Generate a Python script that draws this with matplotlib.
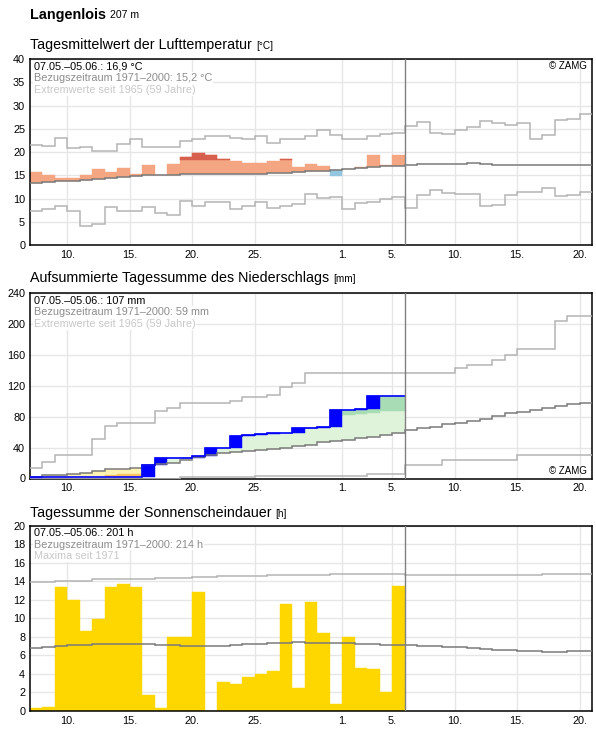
import numpy as np
import matplotlib.pyplot as plt

plt.rcParams['font.family'] = ['Liberation Sans', 'DejaVu Sans']

# x axis: day index 0 = 07.05., each day spans [d, d+1)
tick_pos = [3, 8, 13, 18, 25, 29, 34, 39, 44]
tick_labels = ['10.', '15.', '20.', '25.', '1.', '5.', '10.', '15.', '20.']
n_days = 45
n_obs = 30

# --- temperature (°C) ---
temp = [15.6, 15.1, 14.5, 14.5, 15.1, 16.4, 15.6, 16.6, 15.3, 17.3,
        15.05, 17.5, 19.0, 19.86, 19.4, 18.57, 18.1, 17.7, 17.7, 18.1,
        18.57, 16.85, 17.5, 17.06, 14.9, 16.3, 16.85, 19.4, 17.3, 19.4]
temp_norm = [13.4, 13.6, 13.76, 13.76, 13.9, 14.2, 14.4, 14.6, 14.8, 15.05,
             15.05, 15.05, 15.3, 15.3, 15.3, 15.27, 15.27, 15.27, 15.27, 15.5,
             15.5, 15.7, 15.9, 15.9, 16.1, 16.3, 16.56, 16.8, 17.0, 17.0,
             17.2, 17.4, 17.4, 17.4, 17.4, 17.56, 17.35, 17.2, 17.2, 17.2,
             17.2, 17.2, 17.2, 17.2, 17.2]
temp_max = [21.5, 21.3, 23.0, 20.86, 21.1, 20.2, 20.2, 21.7, 22.8, 21.1,
            21.1, 21.1, 22.3, 22.8, 23.4, 23.4, 23.0, 22.8, 23.4, 21.9,
            22.8, 22.9, 23.4, 24.7, 23.66, 22.8, 22.8, 23.4, 23.9, 24.1,
            25.5, 26.45, 24.1, 23.8, 24.66, 25.3, 26.6, 26.2, 25.7, 26.2,
            22.9, 23.66, 26.8, 27.1, 28.1]
temp_min = [7.3, 7.74, 8.4, 7.3, 4.1, 4.5, 8.2, 7.3, 7.3, 8.2,
            6.9, 6.45, 9.5, 8.4, 9.25, 9.25, 7.74, 8.4, 9.25, 7.96,
            8.4, 8.8, 11.0, 10.1, 10.3, 7.74, 9.0, 9.25, 9.9, 10.3,
            7.9, 10.7, 11.76, 11.2, 10.9, 10.9, 8.4, 8.6, 10.7, 11.5,
            11.3, 12.26, 10.5, 10.7, 11.5]
hot_days = [12, 13, 14, 15, 20]
hot_limit = [18.35, 18.35, 18.35, 18.2, 18.3]

# --- precipitation, cumulative (mm) ---
prec_cum = [1.5, 1.5, 1.5, 1.5, 1.5, 1.5, 1.5, 1.5, 1.5, 17.4,
            26.4, 26.4, 26.6, 28.5, 40.0, 40.0, 54.5, 55.7, 57.0, 58.3,
            58.3, 64.7, 65.0, 66.0, 89.0, 89.0, 90.2, 106.8, 106.8, 106.8]
prec_norm = [2.0, 4.8, 4.8, 6.4, 7.7, 9.2, 12.8, 12.8, 13.5, 17.0,
             18.8, 20.6, 23.3, 27.5, 30.0, 32.8, 34.0, 35.3, 36.6, 37.9,
             39.1, 41.7, 43.0, 46.8, 48.1, 49.4, 51.9, 53.2, 55.7, 59.0,
             62.5, 64.7, 66.8, 70.2, 71.9, 74.5, 77.4, 80.9, 84.2, 85.5,
             88.1, 91.4, 94.0, 95.8, 97.1]
prec_max = [13.2, 20.9, 29.8, 29.8, 29.8, 51.5, 68.0, 72.0, 72.0, 72.0,
            87.0, 90.7, 97.4, 97.4, 97.4, 97.4, 100.0, 105.1, 105.1, 107.7,
            117.9, 123.0, 136.7, 136.7, 136.7, 136.7, 136.7, 136.7, 136.7, 136.7,
            136.7, 136.7, 136.7, 136.7, 143.0, 146.8, 146.8, 153.3, 159.6, 167.3,
            167.3, 167.3, 204.3, 210.8, 210.8]
prec_min = [0, 0, 0, 0, 0, 0, 0, 0, 0, 0,
            0, 0, 1.5, 1.5, 1.5, 1.5, 1.5, 1.5, 3.4, 3.4,
            3.4, 3.4, 3.4, 3.4, 3.4, 3.4, 3.4, 6.3, 6.3, 6.3,
            17.0, 17.0, 17.0, 23.4, 23.4, 23.4, 23.4, 23.4, 23.4, 31.0,
            31.0, 31.0, 31.0, 31.0, 31.0]
wet_days = [24, 25, 26, 27, 28, 29]
wet_limit = [81.0, 82.6, 83.8, 84.7, 86.8, 86.8]
dry_days = [4, 5, 6, 7, 8]
dry_limit = [2.5, 2.5, 4.0, 5.6, 5.6]

# --- sunshine (h) ---
sun = [0.3, 0.4, 13.36, 12.0, 8.64, 9.96, 13.36, 13.68, 13.36, 1.68,
       0.29, 7.93, 7.93, 12.8, 0.0, 3.18, 2.86, 3.71, 4.04, 4.36,
       11.54, 2.43, 11.75, 8.43, 0.71, 8.0, 4.68, 4.57, 2.1, 13.46]
sun_norm = [6.79, 6.86, 6.96, 7.07, 7.07, 7.18, 7.2, 7.2, 7.2, 7.2,
            7.14, 7.1, 7.0, 7.0, 7.0, 7.0, 7.1, 7.2, 7.2, 7.32,
            7.32, 7.43, 7.32, 7.32, 7.32, 7.32, 7.2, 7.2, 7.07, 7.07,
            7.1, 7.0, 7.0, 6.89, 6.89, 6.79, 6.68, 6.57, 6.57, 6.5,
            6.5, 6.39, 6.39, 6.5, 6.5]
sun_max = [13.93, 13.93, 14.04, 14.04, 14.04, 14.18, 14.18, 14.25, 14.25, 14.25,
           14.32, 14.32, 14.32, 14.46, 14.46, 14.54, 14.57, 14.57, 14.57, 14.68,
           14.68, 14.68, 14.7, 14.7, 14.72, 14.75, 14.75, 14.75, 14.75, 14.75,
           14.71, 14.71, 14.71, 14.71, 14.71, 14.71, 14.71, 14.71, 14.71, 14.71,
           14.71, 14.82, 14.82, 14.82, 14.82]

W, H = 596, 729
fig = plt.figure(figsize=(W / 100, H / 100), dpi=100)


def add_panel(top, bottom, left=30, right=592):
    return fig.add_axes([left / W, 1 - bottom / H, (right - left) / W, (bottom - top) / H])


def style(ax, ymax, ystep):
    ax.set_xlim(0, n_days)
    ax.set_ylim(0, ymax)
    ax.set_xticks(tick_pos)
    ax.set_xticklabels(tick_labels)
    ax.set_yticks(np.arange(0, ymax + 0.1, ystep))
    ax.tick_params(length=0, labelsize=7.8, pad=3.5)
    ax.grid(True, color='#e6e6e6', linewidth=1)
    ax.set_axisbelow(True)
    for s in ax.spines.values():
        s.set_linewidth(1.1)
        s.set_color('black')
    ax.axvline(n_obs, color='#808080', linewidth=1, zorder=4)


def info(ax, lines):
    cols = ['black', '#8c8c8c', '#c8c8c8']
    for i, (txt, c) in enumerate(zip(lines, cols)):
        ax.annotate(txt, xy=(0, 1), xycoords='axes fraction',
                    xytext=(4, -7.5 - 11.6 * i), textcoords='offset pixels',
                    ha='left', va='center', fontsize=7.8, color=c, zorder=6,
                    bbox=dict(facecolor='white', edgecolor='none', pad=0.6))


def zamg(ax, top=True):
    y = 1 if top else 0
    off = -7 if top else 7
    ax.annotate('© ZAMG', xy=(1, y), xycoords='axes fraction',
                xytext=(-5, off), textcoords='offset pixels',
                ha='right', va='center', fontsize=7, color='black', zorder=6)


def title(text, unit, baseline):
    t = fig.text(30 / W, 1 - baseline / H, text, fontsize=10.3, va='baseline', ha='left')
    fig.canvas.draw()
    bb = t.get_window_extent()
    fig.text((bb.x1 + 4) / W, 1 - baseline / H, unit, fontsize=7.2, va='baseline', ha='left')


days = np.arange(n_obs)
edges_all = np.arange(n_days + 1)
edges_obs = np.arange(n_obs + 1)

# header
hd = fig.text(30 / W, 1 - 18.5 / H, 'Langenlois', fontsize=10.4, fontweight='bold', va='baseline')
fig.canvas.draw()
bb = hd.get_window_extent()
fig.text((bb.x1 + 4) / W, 1 - 18.5 / H, '207 m', fontsize=7.6, va='baseline')

# ---------- panel 1: temperature ----------
ax1 = add_panel(59, 245)
style(ax1, 40, 5)
t = np.array(temp)
tn = np.array(temp_norm[:n_obs])
warm = t >= tn
ax1.bar(days[warm], (t - tn)[warm], bottom=tn[warm], width=1, align='edge',
        color='#f4a582', edgecolor='#f4a582', linewidth=0.3, zorder=2)
ax1.bar(days[~warm], (tn - t)[~warm], bottom=t[~warm], width=1, align='edge',
        color='#92c5de', edgecolor='#92c5de', linewidth=0.3, zorder=2)
hl = np.array(hot_limit)
ax1.bar(hot_days, t[hot_days] - hl, bottom=hl, width=1, align='edge',
        color='#d6604d', edgecolor='#d6604d', linewidth=0.3, zorder=2)
ax1.stairs(temp_max, edges_all, baseline=None, color='#b4b4b4', linewidth=1.1, zorder=3)
ax1.stairs(temp_min, edges_all, baseline=None, color='#b4b4b4', linewidth=1.1, zorder=3)
ax1.stairs(temp_norm, edges_all, baseline=None, color='#7a7a7a', linewidth=1.1, zorder=3)
info(ax1, ['07.05.–05.06.: 16,9 °C', 'Bezugszeitraum 1971–2000: 15,2 °C',
           'Extremwerte seit 1965 (59 Jahre)'])
zamg(ax1, top=True)
title('Tagesmittelwert der Lufttemperatur', '[°C]', 48.7)

# ---------- panel 2: precipitation ----------
ax2 = add_panel(293, 478.5)
style(ax2, 240, 40)
p = np.array(prec_cum)
pn = np.array(prec_norm[:n_obs])
wet = p >= pn
ax2.bar(days[wet], (p - pn)[wet], bottom=pn[wet], width=1, align='edge',
        color='#dff2da', edgecolor='#dff2da', linewidth=0.3, zorder=2)
ax2.bar(days[~wet], (pn - p)[~wet], bottom=p[~wet], width=1, align='edge',
        color='#fff3b3', edgecolor='#fff3b3', linewidth=0.3, zorder=2)
wl = np.array(wet_limit)
ax2.bar(wet_days, p[wet_days] - wl, bottom=wl, width=1, align='edge',
        color='#a8dcb5', edgecolor='#a8dcb5', linewidth=0.3, zorder=2)
dl = np.array(dry_limit)
ax2.bar(dry_days, dl - p[dry_days], bottom=p[dry_days], width=1, align='edge',
        color='#fdc35e', edgecolor='#fdc35e', linewidth=0.3, zorder=2)
prev = np.concatenate([[0.0], p[:-1]])
inc = p - prev
rain = inc > 0
ax2.bar(days[rain], inc[rain], bottom=prev[rain], width=1, align='edge',
        color='#0000ff', edgecolor='#0000ff', linewidth=0.3, zorder=3)
ax2.stairs(prec_max, edges_all, baseline=None, color='#b4b4b4', linewidth=1.1, zorder=3)
ax2.stairs(prec_min, edges_all, baseline=None, color='#b4b4b4', linewidth=1.1, zorder=3)
ax2.stairs(prec_norm, edges_all, baseline=None, color='#7a7a7a', linewidth=1.1, zorder=3)
ax2.stairs(prec_cum, edges_obs, baseline=None, color='#0000ff', linewidth=1.2, zorder=3.5)
info(ax2, ['07.05.–05.06.: 107 mm', 'Bezugszeitraum 1971–2000: 59 mm',
           'Extremwerte seit 1965 (59 Jahre)'])
zamg(ax2, top=False)
title('Aufsummierte Tagessumme des Niederschlags', '[mm]', 282.3)

# ---------- panel 3: sunshine ----------
ax3 = add_panel(525.5, 711)
style(ax3, 20, 2)
ax3.bar(days, sun, width=1, align='edge', color='#ffd700', edgecolor='#ffd700',
        linewidth=0.3, zorder=2)
ax3.stairs(sun_max, edges_all, baseline=None, color='#b4b4b4', linewidth=1.1, zorder=3)
ax3.stairs(sun_norm, edges_all, baseline=None, color='#7a7a7a', linewidth=1.1, zorder=3)
info(ax3, ['07.05.–05.06.: 201 h', 'Bezugszeitraum 1971–2000: 214 h', 'Maxima seit 1971'])
title('Tagessumme der Sonnenscheindauer', '[h]', 517.3)

fig.savefig('out.png', dpi=100)
